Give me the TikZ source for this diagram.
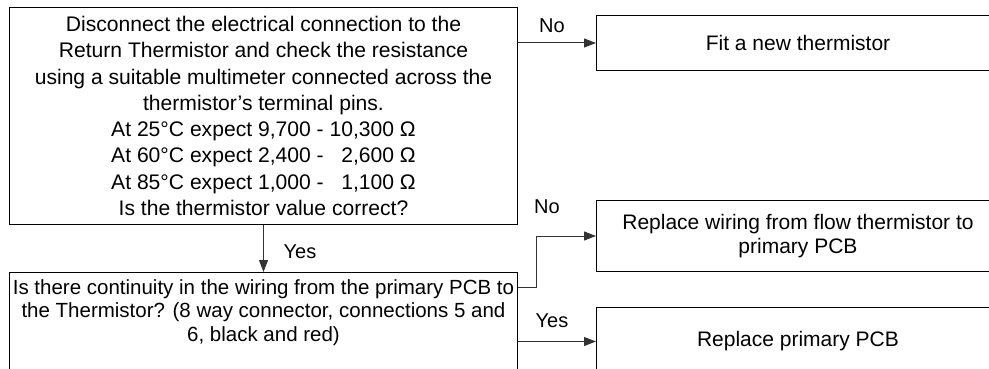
\documentclass[tikz,border=0pt]{standalone}
\usepackage{fontspec}
\setmainfont{Liberation Sans}
\usetikzlibrary{arrows.meta}
\begin{document}
\begin{tikzpicture}[x=1pt,y=-1pt,
  box/.style={draw=black, line width=1pt, rectangle, inner sep=0pt, anchor=north west,
    align=center, font=\fontsize{21}{24}\selectfont},
  lbl/.style={font=\fontsize{20}{22}\selectfont, inner sep=0pt},
  conn/.style={draw=black!80, line width=1pt, -{Triangle[length=12pt,width=9pt]}}]
\useasboundingbox (0,0) rectangle (989,369);
\clip (0,0) rectangle (989,369);
\node[box, minimum width=508pt, minimum height=217pt, font=\fontsize{21.1}{26.3}\selectfont] (b1) at (9,7)
  {Disconnect the electrical connection to the\\
   Return Thermistor and check the resistance\\
   using a suitable multimeter connected across the\\
   thermistor’s terminal pins.\\
   At 25°C expect 9,700 - 10,300 Ω\\
   At 60°C expect 2,400 - \hphantom{1}2,600 Ω\\
   At 85°C expect 1,000 - \hphantom{1}1,100 Ω\\
   Is the thermistor value correct?};
\node[box, minimum width=403pt, minimum height=55pt] (fit) at (596,15) {Fit a new thermistor};
\node[box, minimum width=403pt, minimum height=71pt] (wire) at (596,200)
  {Replace wiring from flow thermistor to\\ primary PCB};
\node[box, minimum width=403pt, minimum height=68pt] (pcb) at (596,307) {Replace primary PCB};
\node[box, minimum width=508pt, minimum height=120pt] (b2) at (9,272) {};
\node[anchor=north, align=center, inner sep=0pt, font=\fontsize{20.5}{23.5}\selectfont] (b2t)
  at ([yshift=-7pt]b2.north)
  {Is there continuity in the wiring from the primary PCB to\\
   the Thermistor? (8 way connector, connections 5 and\\
   6, black and red)};
\node[lbl] (l1) at (552,26) {No};
\node[lbl] (l2) at (300,252) {Yes};
\node[lbl] (l3) at (547,207) {No};
\node[lbl] (l4) at (552,321) {Yes};
\draw[conn] (b1.south) -- (b2.north);
\draw[conn] (b1.east |- fit.west) -- (fit.west);
\draw[conn] ([yshift=-15pt]b2.north east) -- ++(18,0) |- (wire.west);
\draw[conn] (b2.east |- pcb.west) -- (pcb.west);
\end{tikzpicture}
\end{document}
